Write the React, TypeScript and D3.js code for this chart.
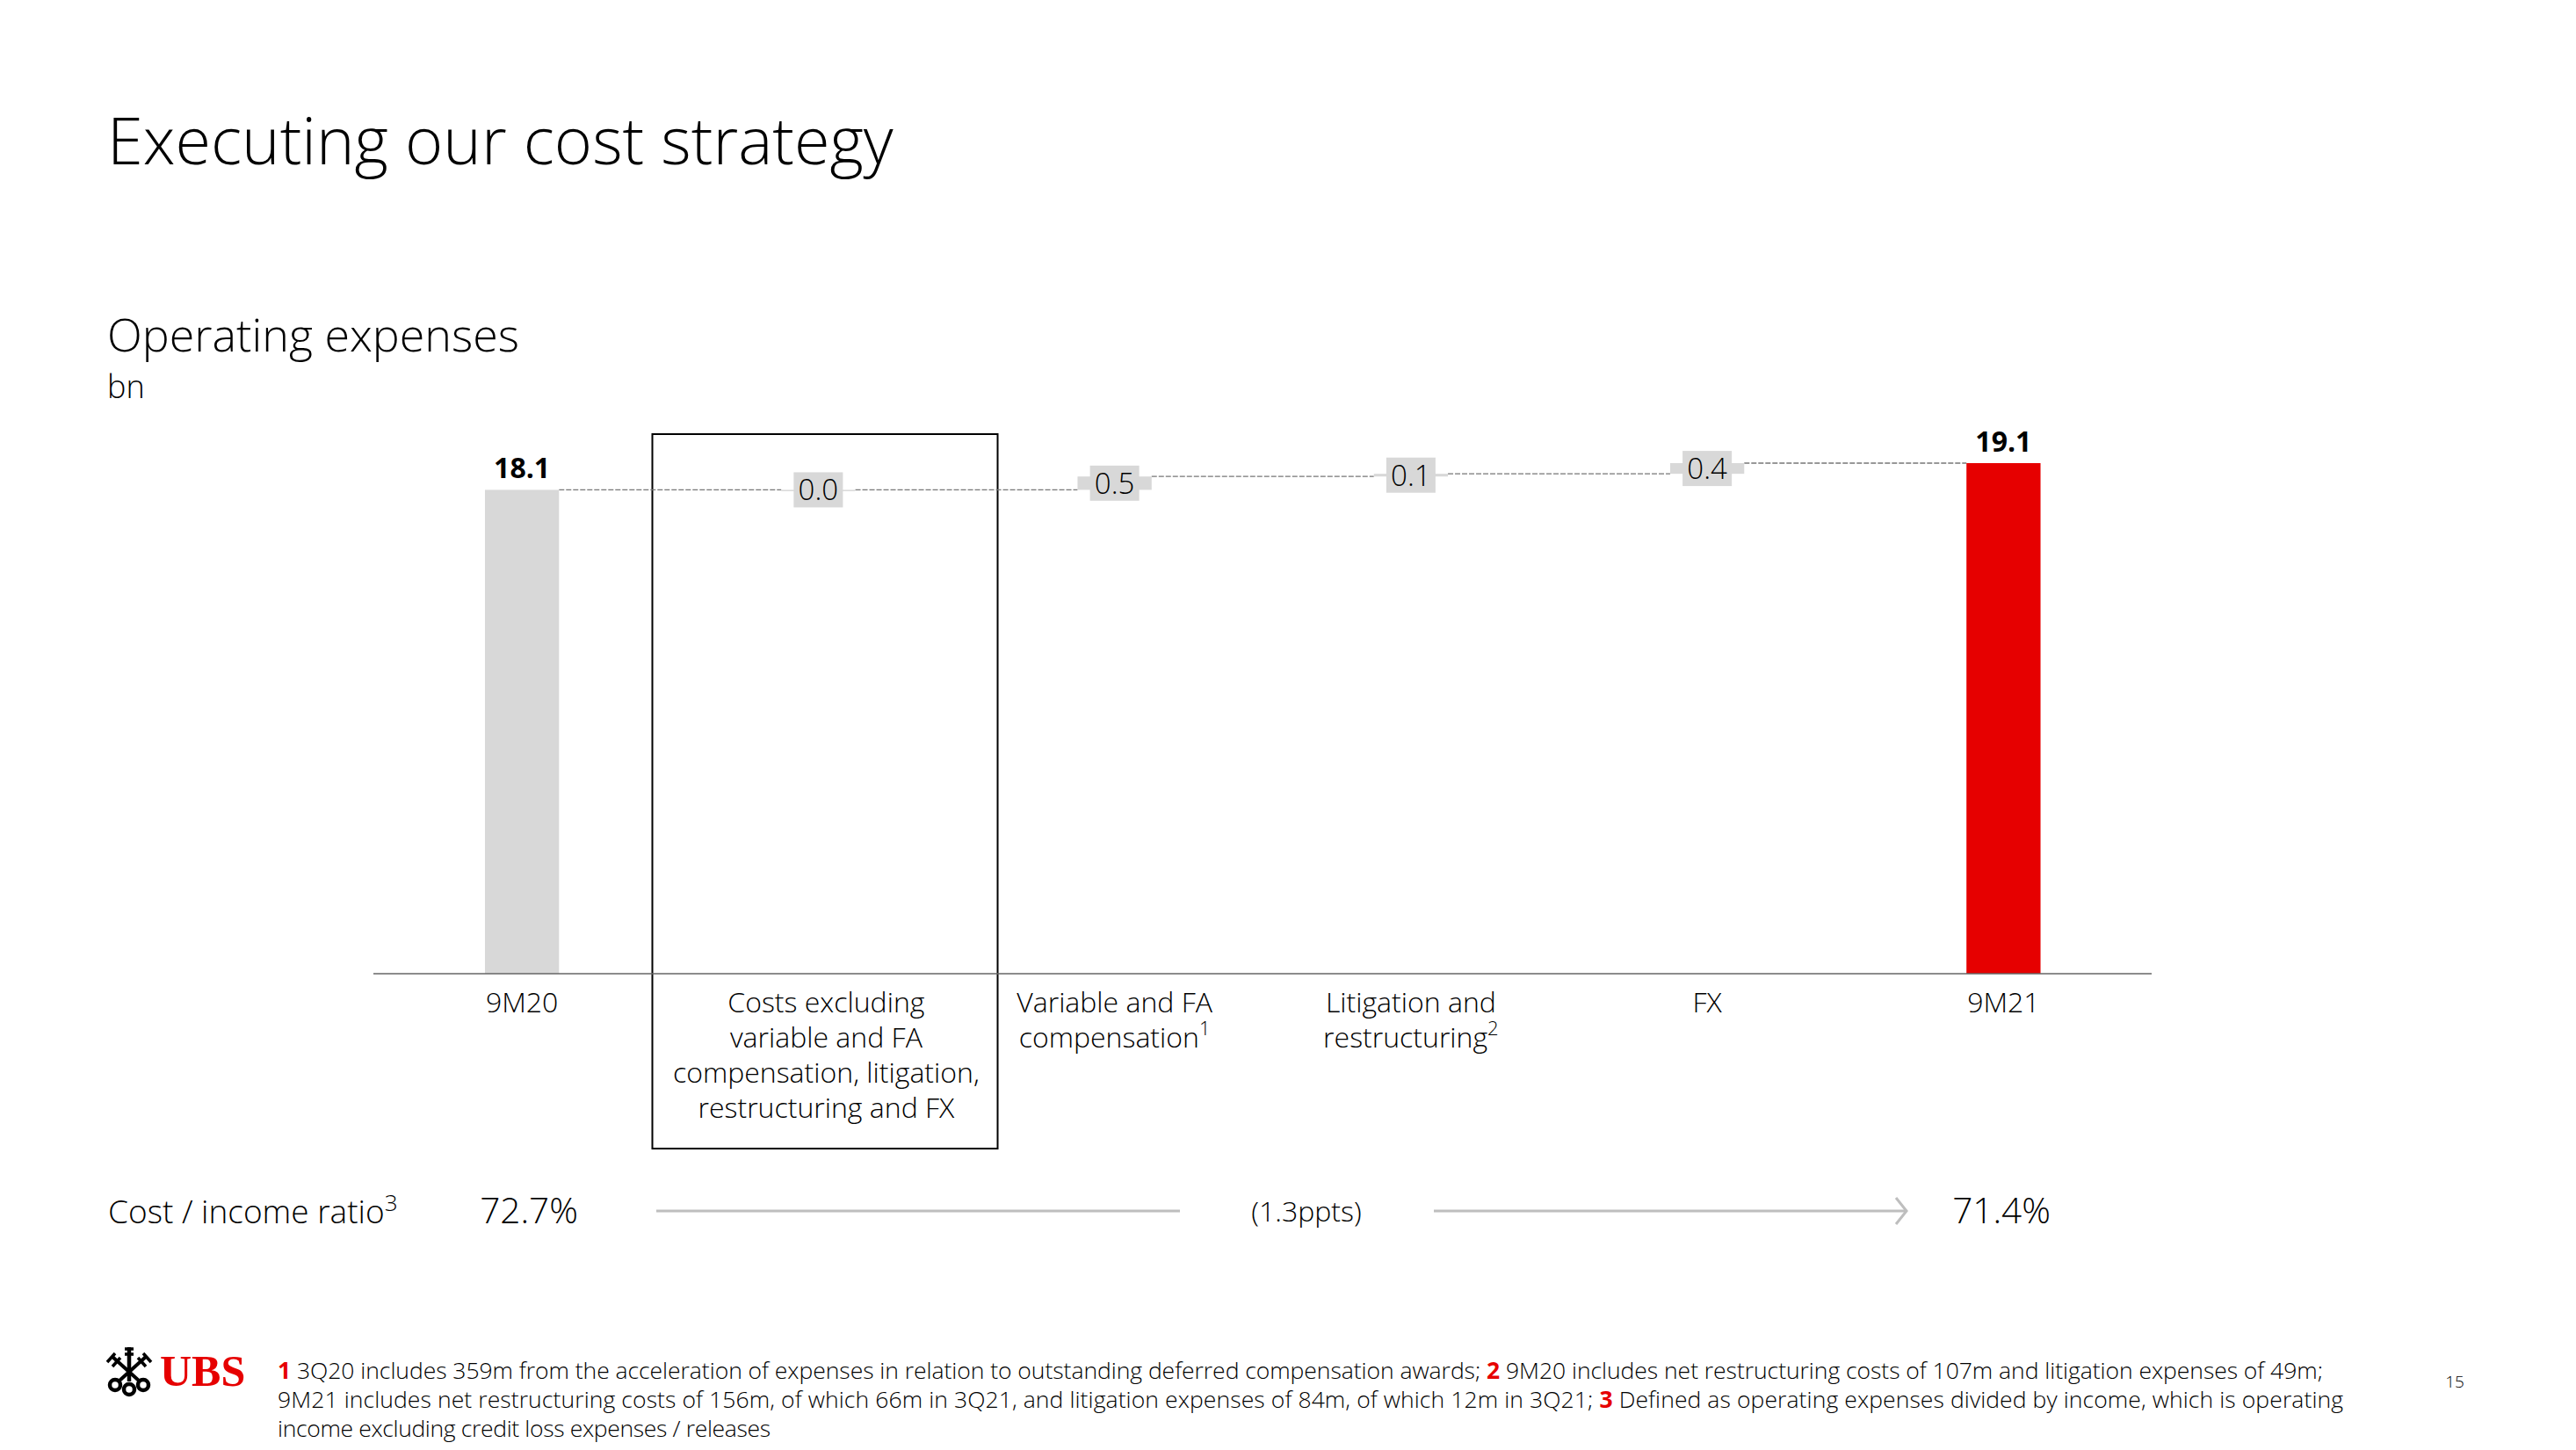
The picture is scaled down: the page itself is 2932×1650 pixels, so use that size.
import React from "react";
import * as d3 from "d3";

const categories = ["9M20", "cost", "var", "lit", "fx", "9M21"];
const barValues = [18.1, 0.0, 0.5, 0.1, 0.4, 19.1];
const barKinds = ["total", "delta", "delta", "delta", "delta", "total"];
const valueLabels = ["18.1", "0.0", "0.5", "0.1", "0.4", "19.1"];
const categoryLabels: [string, string?][][] = [
  [["9M20"]],
  [["Costs excluding"], ["variable and FA"], ["compensation, litigation,"], ["restructuring and FX"]],
  [["Variable and FA"], ["compensation", "1"]],
  [["Litigation and"], ["restructuring", "2"]],
  [["FX"]],
  [["9M21"]],
];
const ratioStart = "72.7%";
const ratioEnd = "71.4%";
const ratioChange = "(1.3ppts)";
const footnoteLines: [string, boolean][][] = [
  [["1", true], [" 3Q20 includes 359m from the acceleration of expenses in relation to outstanding deferred compensation awards; ", false], ["2", true], [" 9M20 includes net restructuring costs of 107m and litigation expenses of 49m;", false]],
  [["9M21 includes net restructuring costs of 156m, of which 66m in 3Q21, and litigation expenses of 84m, of which 12m in 3Q21; ", false], ["3", true], [" Defined as operating expenses divided by income, which is operating", false]],
  [["income excluding credit loss expenses / releases", false]],
];

const FONT = "'Open Sans', 'Noto Sans', sans-serif";
const GREY = "#D8D8D8";
const RED = "#E60000";
const footnoteWidths = [2328, 2351, 561];

function Keys() {
  const circles: [number, number][] = [[-16, 18], [16, 18], [0, 23]];
  return (
    <g transform="translate(147,1558)" stroke="#000" fill="none">
      <path d="M0,-25 L0,14" strokeWidth={4.5} />
      <path d="M-20,-15 L11,13 M20,-15 L-11,13" strokeWidth={4} />
      <path d="M-5,-23 H5 M-5,-17 H5 M-25,-8 L-16,-18 M-19,-3 L-10,-13 M25,-8 L16,-18 M19,-3 L10,-13" strokeWidth={3.5} />
      {circles.map(([x, y], i) => (
        <circle key={i} cx={x} cy={y} r={6} strokeWidth={4.5} />
      ))}
    </g>
  );
}

export default function App() {
  const x = d3.scaleBand<string>().domain(categories).range([425.5, 2449]).paddingInner(0.75).paddingOuter(0.375);
  const y = d3.scaleLinear().domain([0, 19.1]).range([1108, 527]);
  let running = 0;
  const bars = categories.map((c, i) => {
    const v = barValues[i];
    const lo = barKinds[i] === "total" ? 0 : running;
    const hi = barKinds[i] === "total" ? v : running + v;
    running = hi;
    return { c, i, lo, hi, left: x(c)!, w: x.bandwidth(), cx: x(c)! + x.bandwidth() / 2 };
  });

  return (
    <svg width={2932} height={1650} viewBox="0 0 2932 1650" style={{ position: "absolute", left: 0, top: 0, background: "#fff" }} fontFamily={FONT} fontWeight={300} fill="#000">
      <text x={122} y={187} fontSize={73.8}>Executing our cost strategy</text>
      <text x={122} y={400} fontSize={52}>Operating expenses</text>
      <text x={122} y={453} fontSize={36}>bn</text>

      <rect x={742.5} y={494} width={393} height={813} fill="none" stroke="#000" strokeWidth={2} />

      {bars.slice(0, -1).map((b, i) => {
        const n = bars[i + 1];
        return (
          <line key={b.c} x1={b.left + b.w} x2={n.left} y1={y(b.hi)} y2={y(b.hi)} stroke="#777" strokeWidth={1.3} strokeDasharray="6 2" />
        );
      })}

      {bars.map((b) => {
        const h = Math.max(y(b.lo) - y(b.hi), 1.5);
        return (
          <rect key={b.c} x={b.left} width={b.w} y={y(b.hi)} height={h} fill={b.i === 5 ? RED : GREY} />
        );
      })}

      {bars.map((b) => {
        const total = barKinds[b.i] === "total";
        const label = valueLabels[b.i];
        if (total) {
          return (
            <text key={b.c} x={b.cx} y={y(b.hi) - 13} textAnchor="middle" fontSize={32} fontWeight={700}>{label}</text>
          );
        }
        const mid = (y(b.lo) + y(b.hi)) / 2;
        return (
          <g key={b.c}>
            <rect x={b.cx - 28} y={mid - 20} width={56} height={40} fill={GREY} />
            <text x={b.cx} y={mid + 12} textAnchor="middle" fontSize={33}>{label}</text>
          </g>
        );
      })}

      <line x1={425} x2={2449} y1={1108} y2={1108} stroke="#666" strokeWidth={1.5} />

      {bars.map((b) => (
        <text key={b.c} textAnchor="middle" fontSize={32}>
          {categoryLabels[b.i].map(([t, sup], k) => (
            <tspan key={k} x={b.cx + (b.i === 1 ? 9 : 0)} y={1152 + k * 40}>
              {t}
              {sup ? <tspan fontSize={22} dy={-14}>{sup}</tspan> : null}
            </tspan>
          ))}
        </text>
      ))}

      <text x={123} y={1392} fontSize={37}>
        Cost / income ratio<tspan fontSize={26} dy={-14}>3</tspan>
      </text>
      <text x={602} y={1392} textAnchor="middle" fontSize={40.5}>{ratioStart}</text>
      <text x={2278} y={1392} textAnchor="middle" fontSize={40.5}>{ratioEnd}</text>
      <text x={1487} y={1390} textAnchor="middle" fontSize={32}>{ratioChange}</text>
      <g stroke="#BEBEBE" strokeWidth={3} fill="none">
        <line x1={747} x2={1343} y1={1378} y2={1378} />
        <line x1={1632} x2={2170} y1={1378} y2={1378} />
        <path d="M2158,1363 L2170,1378 L2158,1393" />
      </g>

      <Keys />
      <text x={182} y={1577} fontFamily="'Liberation Serif', serif" fontWeight={700} fontSize={50} fill={RED}>UBS</text>

      {footnoteLines.map((line, i) => (
        <text key={i} x={316} y={1569 + i * 33} fontSize={26.5} textLength={footnoteWidths[i]} lengthAdjust="spacing">
          {line.map(([t, red], k) => (
            <tspan key={k} fill={red ? RED : "#000"} fontWeight={red ? 700 : 300} xmlSpace="preserve">{t}</tspan>
          ))}
        </text>
      ))}
      <text x={2794} y={1579} textAnchor="middle" fontSize={19}>15</text>
    </svg>
  );
}
